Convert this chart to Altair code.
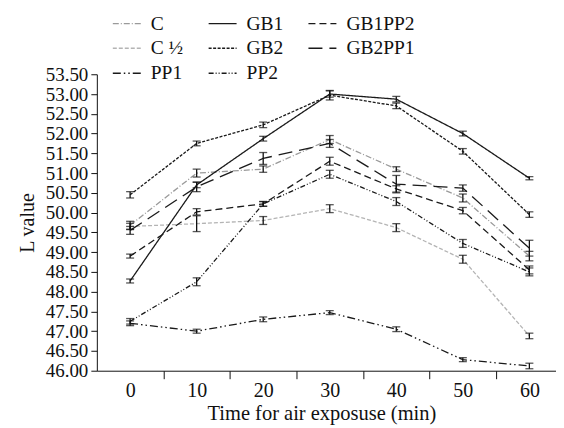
import altair as alt
import pandas as pd

times = [0, 10, 20, 30, 40, 50, 60]

series = ["C", "C ½", "PP1", "GB1", "GB2", "PP2", "GB1PP2", "GB2PP1"]

val_C      = [49.68, 51.00, 51.10, 51.85, 51.10, 50.37, 48.90]
val_Chalf  = [49.65, 49.72, 49.80, 50.10, 49.62, 48.82, 46.88]
val_PP1    = [47.20, 47.00, 47.30, 47.47, 47.05, 46.28, 46.12]
val_GB1    = [48.27, 50.70, 51.87, 53.00, 52.87, 52.00, 50.87]
val_GB2    = [50.45, 51.75, 52.22, 52.97, 52.70, 51.55, 49.95]
val_PP2    = [47.25, 48.25, 50.22, 50.97, 50.28, 49.22, 48.50]
val_GB1PP2 = [48.90, 50.02, 50.22, 51.30, 50.60, 50.05, 48.55]
val_GB2PP1 = [49.55, 50.65, 51.37, 51.75, 50.72, 50.62, 49.10]

err_C      = [0.10, 0.10, 0.08, 0.10, 0.06, 0.10, 0.12]
err_Chalf  = [0.08, 0.20, 0.10, 0.10, 0.10, 0.10, 0.07]
err_PP1    = [0.06, 0.05, 0.06, 0.05, 0.06, 0.05, 0.07]
err_GB1    = [0.05, 0.07, 0.06, 0.08, 0.07, 0.06, 0.04]
err_GB2    = [0.08, 0.06, 0.07, 0.12, 0.07, 0.07, 0.07]
err_PP2    = [0.07, 0.10, 0.06, 0.10, 0.10, 0.10, 0.10]
err_GB1PP2 = [0.05, 0.08, 0.06, 0.10, 0.08, 0.08, 0.10]
err_GB2PP1 = [0.10, 0.12, 0.15, 0.10, 0.22, 0.08, 0.20]

values = [val_C, val_Chalf, val_PP1, val_GB1, val_GB2, val_PP2, val_GB1PP2, val_GB2PP1]
errors = [err_C, err_Chalf, err_PP1, err_GB1, err_GB2, err_PP2, err_GB1PP2, err_GB2PP1]

colors = ["#9a9a9a", "#b4b4b4", "#1a1a1a", "#1a1a1a", "#1a1a1a", "#1a1a1a", "#1a1a1a", "#1a1a1a"]
dashes = [[6, 2, 1, 2], [4, 2], [8, 3, 1.5, 3, 1.5, 3], [1, 0], [3, 1.5], [5, 2, 1, 2, 1, 2], [7, 4], [14, 7]]

rows = []
for s, vs, es in zip(series, values, errors):
    for t, v, e in zip(times, vs, es):
        rows.append({"s": s, "t": t, "v": v, "lo": v - e, "hi": v + e})
df = pd.DataFrame(rows)

y_ticks = [46 + 0.5 * i for i in range(16)]
x_ticks = [0, 5, 10, 15, 20, 25, 30, 35, 40, 45, 50, 55, 60]

FONT = "Liberation Serif"

leg = alt.Legend(
    title=None, orient="none", legendX=15, legendY=-66, columns=3,
    symbolType="stroke", symbolSize=784, symbolStrokeWidth=1.4,
    labelFont=FONT, labelFontSize=19.5, labelColor="#111",
    labelOffset=9, columnPadding=22, rowPadding=0, padding=0,
)

x_axis = alt.Axis(
    values=x_ticks, title="Time for air exposuse (min)", grid=False,
    labelExpr="datum.value % 10 == 0 ? datum.label : ''",
    tickOpacity={"condition": {"test": "datum.value % 10 == 0", "value": 0}, "value": 1},
    tickSize=8, labelPadding=2, labelFontSize=20, labelOverlap=False, labelFlush=False,
    titleFontSize=20.5, titlePadding=3, titleX=225, titleFontWeight="normal",
    labelFont=FONT, titleFont=FONT, domainColor="#111", tickColor="#111",
    labelColor="#111", titleColor="#111",
)
y_axis = alt.Axis(
    values=y_ticks, format=".2f", title="L value", grid=False,
    tickSize=6, labelPadding=3, labelFontSize=19, labelOverlap=False,
    titleFontSize=20, titlePadding=8, titleFontWeight="normal",
    labelFont=FONT, titleFont=FONT, domainColor="#111", tickColor="#111",
    labelColor="#111", titleColor="#111",
)
x_scale = alt.Scale(domain=[-5, 64], nice=False, zero=False)
y_scale = alt.Scale(domain=[46, 53.5], nice=False, zero=False)

lines = alt.Chart(df).mark_line(strokeWidth=1.3).encode(
    x=alt.X("t:Q", scale=x_scale, axis=x_axis),
    y=alt.Y("v:Q", scale=y_scale, axis=y_axis),
    color=alt.Color("s:N", scale=alt.Scale(domain=series, range=colors), legend=leg),
    strokeDash=alt.StrokeDash("s:N", scale=alt.Scale(domain=series, range=dashes), legend=leg),
)

bars = alt.Chart(df).mark_errorbar(ticks=True, size=8, thickness=1.3, color="#111").encode(
    x=alt.X("t:Q", scale=x_scale, axis=x_axis),
    y=alt.Y("lo:Q", scale=y_scale, axis=y_axis),
    y2="hi:Q",
)

chart = alt.layer(lines, bars).properties(
    width=460, height=297,
    autosize=alt.AutoSizeParams(type="none"),
    padding={"left": 89, "top": 66, "right": 0, "bottom": 54},
).configure_view(stroke=None)

chart.save("out.html", embed_options={"renderer": "svg", "actions": False})
